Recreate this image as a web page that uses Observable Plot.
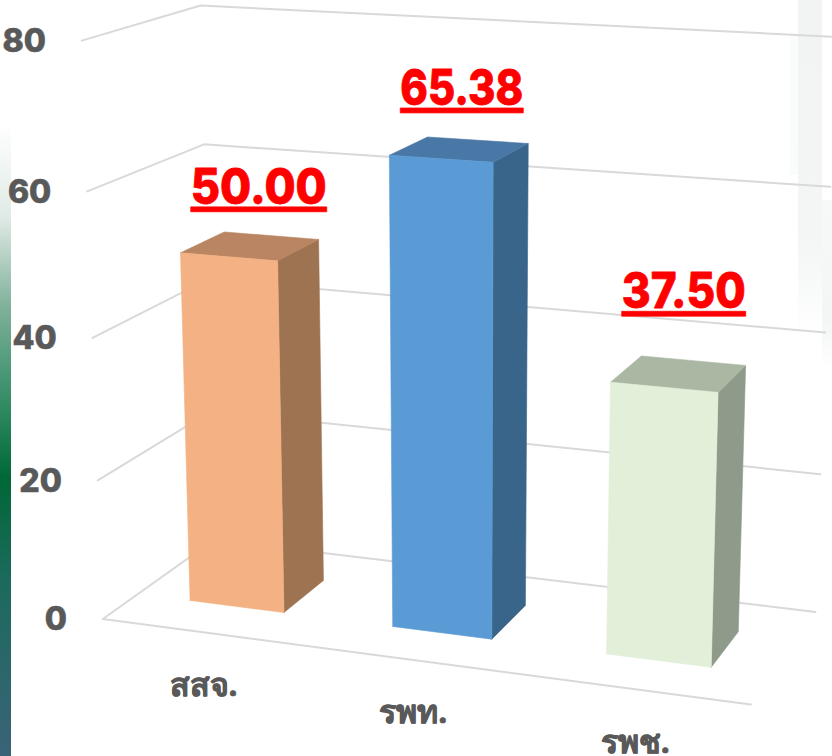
<!DOCTYPE html>
<html><head><meta charset="utf-8">
<script src="https://cdn.jsdelivr.net/npm/d3@7"></script>
<script src="https://cdn.jsdelivr.net/npm/@observablehq/plot@0.6"></script>
<style>
html,body{margin:0;padding:0;background:#fff;width:832px;height:756px;overflow:hidden}
#wrap{position:relative;width:832px;height:756px}
#wrap svg{position:absolute;left:0;top:0;background:transparent}
.deco{position:absolute}
</style></head><body>
<div id="wrap">
<div class="deco" style="left:0;top:123px;width:11px;height:633px;background:linear-gradient(180deg,#fff 0%,#dfeae5 15%,#7fb19b 29%,#2f8a62 45%,#006837 56%,#1c6a5c 72%,#3a6378 100%)"></div>
<div class="deco" style="left:798px;top:0;width:24px;height:340px;background:linear-gradient(180deg,#f1f4f3 0%,#f3f6f5 70%,#fff 100%)"></div>
<div class="deco" style="left:790px;top:35px;width:8px;height:140px;background:#fafbfb"></div>
<div class="deco" style="left:822px;top:200px;width:10px;height:170px;background:linear-gradient(180deg,#f7f9f8 0%,#f3f6f5 70%,#fff 100%)"></div>
</div>
<script>
// chart values
const categories = ["สสจ.", "รพท.", "รพช."];
const values = [50.00, 65.38, 37.50];
const labels = ["50.00", "65.38", "37.50"];
const yTicks = [0, 20, 40, 60, 80];
const frontColors = ["#F4B183", "#5B9BD5", "#E2EFD9"];
const sideColors = ["#9E7352", "#3A658B", "#8E9A8A"];
const topColors = ["#B98562", "#4A78A6", "#AAB7A3"];

// camera calibration: world (category position, value, depth) -> page pixel
const calib = [
 [0,0,0,103,618],[0,20,0,97,480],[0,40,0,92,337],[0,60,0,87,191],[0,80,0,81,40],
 [0,0,1,213,539],[0,20,1,210,412],[0,40,1,207,280],[0,60,1,204,143],[0,80,1,200,5],
 [3,0,1,815,611],[3,20,1,820,473],[3,40,1,825,332],[3,60,1,830,186],[3,80,1,835,37],
 [3,0,0,750,705]
];
function solve(A,b){const n=b.length;const M=A.map((r,i)=>[...r,b[i]]);
 for(let i=0;i<n;i++){let p=i;for(let r=i+1;r<n;r++)if(Math.abs(M[r][i])>Math.abs(M[p][i]))p=r;[M[i],M[p]]=[M[p],M[i]];
  for(let r=0;r<n;r++){if(r===i)continue;const f=M[r][i]/M[i][i];for(let c=i;c<=n;c++)M[r][c]-=f*M[i][c];}}
 return M.map((r,i)=>r[n]/r[i]);}
const cam=(()=>{const N=Array.from({length:11},()=>Array(11).fill(0)),B=Array(11).fill(0);
 const add=(row,t)=>{for(let i=0;i<11;i++){B[i]+=row[i]*t;for(let j=0;j<11;j++)N[i][j]+=row[i]*row[j];}};
 for(const [u,v,z,px,py] of calib){const X=u/3,Y=v/80,Z=z,x=px/1000,y=py/1000;
  add([X,Y,Z,1,0,0,0,0,-x*X,-x*Y,-x*Z],x);add([0,0,0,0,X,Y,Z,1,-y*X,-y*Y,-y*Z],y);}
 return solve(N,B);})();
function proj(u,v,z){const X=u/3,Y=v/80,Z=z,w=cam[8]*X+cam[9]*Y+cam[10]*Z+1;
 return [1000*(cam[0]*X+cam[1]*Y+cam[2]*Z+cam[3])/w,1000*(cam[4]*X+cam[5]*Y+cam[6]*Z+cam[7])/w];}

const halfW=0.235, z0=0.3, z1=0.69;
// label placement relative to the top of each bar
const lift=[6,7,12], nudgeX=[31,21,18], nudgeY=[-25,-16,-4], labelWidth=[136,123,124];
const marks=[];
const px=d=>proj(...d)[0], py=d=>proj(...d)[1];
const grid={stroke:"#d9d9d9",strokeWidth:2,x:px,y:py};
for(const t of yTicks){marks.push(Plot.line([[0,t,0],[0,t,1],[3,t,1]],grid));}
marks.push(Plot.line([[0,0,0],[3,0,0]],grid));

values.forEach((val,k)=>{
 const a=k+0.5-halfW,b=k+0.5+halfW;
 const face=(pts,color)=>Plot.line([...pts,pts[0]],{x:px,y:py,fill:color,stroke:color,strokeWidth:0.6});
 marks.push(face([[b,0,z0],[b,0,z1],[b,val,z1],[b,val,z0]],sideColors[k]));
 marks.push(face([[a,val,z0],[b,val,z0],[b,val,z1],[a,val,z1]],topColors[k]));
 marks.push(face([[a,0,z0],[b,0,z0],[b,val,z0],[a,val,z0]],frontColors[k]));
});
marks.push(Plot.text(yTicks,{x:t=>proj(0,t,0)[0],y:t=>proj(0,t,0)[1],text:String,textAnchor:"end",dx:-36,dy:1,fill:"#595959",stroke:"#595959",strokeWidth:0.6,fontSize:32,fontWeight:800,fontFamily:"Inter"}));
marks.push(Plot.text(categories,{x:(d,i)=>proj(i+0.5,0,0)[0],y:(d,i)=>proj(i+0.5,0,0)[1],text:d=>d,dy:53,fill:"#595959",stroke:"#595959",strokeWidth:0.7,fontSize:32,fontWeight:700,fontFamily:"Noto Sans"}));
marks.push(Plot.text(labels,{x:(d,i)=>proj(i+0.5,values[i]+lift[i],z0)[0]+nudgeX[i],y:(d,i)=>proj(i+0.5,values[i]+lift[i],z0)[1]+nudgeY[i],text:d=>d,fill:"#ff0000",stroke:"#ff0000",strokeWidth:0.8,fontSize:49,fontWeight:800,fontFamily:"Inter"}));

const chart=Plot.plot({width:832,height:756,margin:0,
 x:{domain:[0,832],range:[0,832],axis:null},y:{domain:[0,756],range:[0,756],axis:null},
 style:{background:"transparent"},marks});
d3.select(chart).selectAll("text").filter(function(){return labels.includes(this.textContent);})
 .each(function(){const i=labels.indexOf(this.textContent);this.setAttribute("textLength",labelWidth[i]);this.setAttribute("lengthAdjust","spacingAndGlyphs");})
 .style("text-decoration","underline").style("text-decoration-thickness","3px").style("text-underline-offset","1px");
document.getElementById("wrap").appendChild(chart);
</script>
</body></html>
